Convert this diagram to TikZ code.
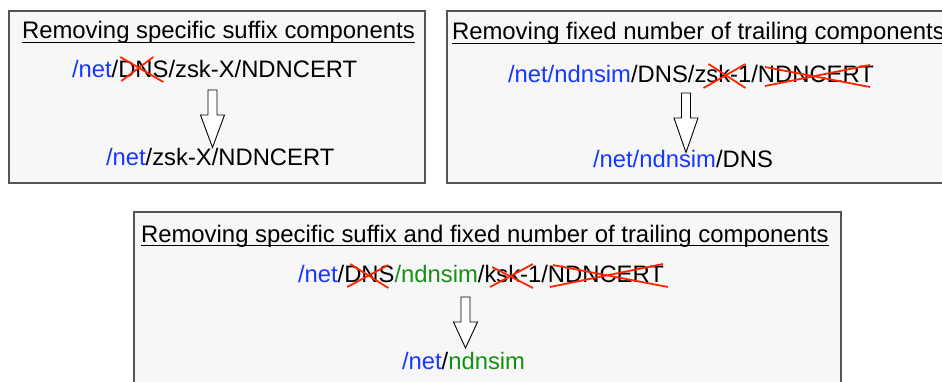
\documentclass[tikz,border=0pt]{standalone}
\usepackage{fontspec}
\setmainfont{Liberation Sans}
\usetikzlibrary{calc}
\definecolor{nblue}{RGB}{22,56,255}
\definecolor{ngreen}{RGB}{20,145,20}
\definecolor{xred}{RGB}{255,38,0}
\definecolor{boxfill}{RGB}{247,247,247}
\definecolor{boxline}{RGB}{85,85,85}
\newcommand\ttlfont{\fontsize{23.9}{29}\selectfont}
\newcommand\pthfont{\fontsize{23.8}{28}\selectfont}
\begin{document}
\begin{tikzpicture}[x=1pt,y=-1pt,
  panel/.style={draw=boxline, fill=boxfill, line width=1.1pt},
  ttl/.style={inner sep=0pt, outer sep=0pt, anchor=base west, font=\ttlfont},
  seg/.style={inner sep=0pt, outer sep=0pt, anchor=base west, font=\pthfont},
  uline/.style={line width=1.4pt},
  strike/.style={draw=xred, line width=1.8pt},
  blockarrow/.style={draw=black, fill=white, line width=0.9pt, line join=miter}]
\useasboundingbox (0,0) rectangle (942,381);
\clip (0,0) rectangle (942,381);
\fill[white] (0,0) rectangle (942,381);

% ---------- panel 1 ----------
\draw[panel] (9,11) rectangle (425,183);
\node[ttl] (t1) at (22,38.5) {Removing specific suffix components};
\draw[uline] ($(t1.base west)+(0,3.7)$) -- ($(t1.base east)+(0,3.7)$);
\node[seg, text=nblue] (a1) at (72,77) {/net};
\node[seg] (a2) at (a1.base east) {/};
\node[seg] (a3) at (a2.base east) {DNS};
\node[seg] (a4) at (a3.base east) {/zsk-X/NDNCERT};
\draw[strike] ($(a3.base west)+(2,-20)$) -- ($(a3.base west)+(45,5)$);
\draw[strike] ($(a3.base west)+(3,4)$) -- ($(a3.base west)+(35,-20)$);
\draw[blockarrow] (208,90) -- (217,90) -- (217,115) -- (224.5,115) -- (212.5,147.5)
  -- (200.5,115) -- (208,115) -- cycle;
\node[seg, text=nblue] (r1a) at (106,165) {/net};
\node[seg] (r1b) at (r1a.base east) {/zsk-X/NDNCERT};

% ---------- panel 2 ----------
\draw[panel] (447,11) rectangle (960,183);
\node[ttl] (t2) at (452,39.5) {Removing fixed number of trailing components};
\draw[uline] ($(t2.base west)+(0,3.7)$) -- ($(t2.base east)+(0,3.7)$);
\node[seg, text=nblue] (b1) at (508,82) {/net/ndnsim};
\node[seg] (b2) at (b1.base east) {/DNS/};
\node[seg] (b3) at (b2.base east) {zsk};
\node[seg] (b4) at (b3.base east) {-1/};
\node[seg] (b5) at (b4.base east) {NDNCERT};
\draw[strike] ($(b3.base west)+(9,6)$) -- ($(b3.base west)+(51,-18)$);
\draw[strike] ($(b3.base west)+(14,-18)$) -- ($(b3.base west)+(51,6)$);
\draw[strike] ($(b5.base west)+(7,-15)$) -- ($(b5.base west)+(112,5)$);
\draw[strike] ($(b5.base west)+(7,4)$) -- ($(b5.base west)+(112,-17)$);
\draw[blockarrow] (681.5,93) -- (690.5,93) -- (690.5,118) -- (698,118) -- (686,152.5)
  -- (674,118) -- (681.5,118) -- cycle;
\node[seg, text=nblue] (r2a) at (593,167) {/net/ndnsim};
\node[seg] (r2b) at (r2a.base east) {/DNS};

% ---------- panel 3 ----------
\draw[panel] (134,212) rectangle (841,395);
\node[ttl] (t3) at (141,242) {Removing specific suffix and fixed number of trailing components};
\draw[uline] ($(t3.base west)+(0,3.7)$) -- ($(t3.base east)+(0,3.7)$);
\node[seg, text=nblue] (c1) at (298,282) {/net};
\node[seg] (c2) at (c1.base east) {/};
\node[seg] (c3) at (c2.base east) {DNS};
\node[seg, text=ngreen] (c4) at (c3.base east) {/ndnsim};
\node[seg] (c5) at (c4.base east) {/};
\node[seg] (c6) at (c5.base east) {ksk};
\node[seg] (c7) at (c6.base east) {-1/};
\node[seg] (c8) at (c7.base east) {NDNCERT};
\draw[strike] ($(c3.base west)+(3,5)$) -- ($(c3.base west)+(44,-17)$);
\draw[strike] ($(c3.base west)+(6,-18)$) -- ($(c3.base west)+(44,6)$);
\draw[strike] ($(c6.base west)+(5.5,5)$) -- ($(c6.base west)+(48.5,-18)$);
\draw[strike] ($(c6.base west)+(7.5,-15)$) -- ($(c6.base west)+(48.5,6)$);
\draw[strike] ($(c8.base west)+(2,5)$) -- ($(c8.base west)+(115,-18)$);
\draw[strike] ($(c8.base west)+(5,-17)$) -- ($(c8.base west)+(120,5)$);
\draw[blockarrow] (461,297) -- (470,297) -- (470,322) -- (477.5,322) -- (465.5,348)
  -- (453.5,322) -- (461,322) -- cycle;
\node[seg, text=nblue] (r3a) at (402,369) {/net};
\node[seg] (r3b) at (r3a.base east) {/};
\node[seg, text=ngreen] (r3c) at (r3b.base east) {ndnsim};
\end{tikzpicture}
\end{document}
